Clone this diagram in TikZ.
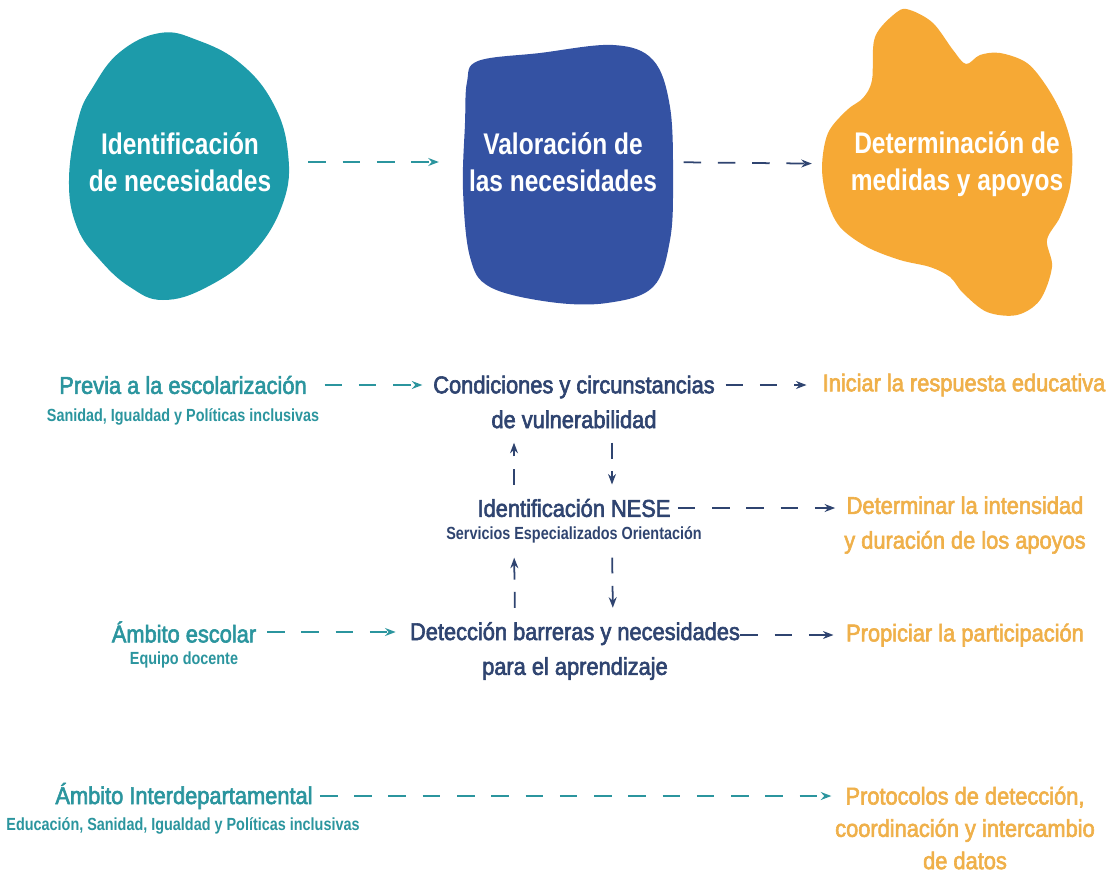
\documentclass[tikz,border=0pt]{standalone}
\usepackage{fontspec}
\setmainfont{Liberation Sans}[FakeStretch=0.82]
\newfontfamily\medfont{Liberation Sans}[FakeStretch=0.9, FakeBold=2.5]
\usetikzlibrary{arrows.meta, calc}

\definecolor{tealblob}{HTML}{1D9BAA}
\definecolor{blueblob}{HTML}{3452A3}
\definecolor{orangeblob}{HTML}{F6A935}
\definecolor{tealtxt}{HTML}{2B959E}
\definecolor{navytxt}{HTML}{2F4470}
\definecolor{orangetxt}{HTML}{EFB04A}

\tikzset{
  blobtitle/.style={text=white, font=\bfseries\fontsize{17}{21}\selectfont, align=center, inner sep=0pt},
  mainlbl/.style={font=\medfont\fontsize{13.8}{19.8}\selectfont, align=center, inner sep=0pt},
  sublbl/.style={font=\bfseries\fontsize{10}{12}\selectfont, align=center, inner sep=0pt},
  flow/.style={line width=1pt, dash pattern=on 10pt off 9.5pt, -{Stealth[length=6pt,width=4.5pt]}},
  vflow/.style={flow, navytxt, dash pattern=on 9pt off 7pt, shorten <=8pt, shorten >=8pt},
}

\begin{document}
\begin{tikzpicture}[x=0.02cm, y=-0.02cm]
\useasboundingbox (0,0) rectangle (1114,875);

% blobs
\fill[tealblob] plot[smooth cycle, tension=0.7] coordinates {(160,33) (197,40) (240,63) (273,103) (288,153) (283,203) (253,253) (207,287) (163,300) (130,287) (100,260) (77,227) (69,180) (78,120) (93,87) (120,52)};
\fill[blueblob] plot[smooth cycle, tension=0.6] coordinates {(478,61) (540,53) (613,45) (653,60) (670,107) (673,180) (670,240) (653,287) (607,303) (550,302) (490,287) (470,257) (463,190) (465,123) (467,82)};
\fill[orangeblob] plot[smooth cycle, tension=0.55] coordinates {(875,37) (897,12) (910,10) (933,23) (953,50) (966,64) (980,55) (1000,53) (1027,63) (1047,87) (1063,117) (1072,150) (1070,187) (1060,217) (1047,240) (1052,267) (1040,300) (1017,315) (987,312) (963,293) (950,277) (930,267) (900,260) (867,247) (840,227) (827,200) (822,167) (828,133) (847,110) (863,98) (872,80)};

\node[blobtitle] (idn) at (180,162) {Identificación\\de necesidades};
\node[blobtitle] (val) at (563,162) {Valoración de\\las necesidades};
\node[blobtitle] (det) at (957,164) {Determinación de\\medidas y apoyos};

\draw[flow, tealtxt, shorten <=21pt, shorten >=17pt] (idn.east) -- (val.west);
\draw[flow, navytxt, shorten <=15pt, shorten >=22pt] (val.east) -- (det.west);

% origins
\node[mainlbl, text=tealtxt] (prev) at (183,385) {Previa a la escolarización};
\node[sublbl, text=tealtxt] (prevsub) at (183,417) {Sanidad, Igualdad y Políticas inclusivas};
\node[mainlbl, text=tealtxt] (esc) at (184,632) {Ámbito escolar};
\node[sublbl, text=tealtxt] (escsub) at (184,660) {Equipo docente};
\node[mainlbl, text=tealtxt] (inter) at (184,796) {Ámbito Interdepartamental};
\node[sublbl, text=tealtxt] (intersub) at (183,826) {Educación, Sanidad, Igualdad y Políticas inclusivas};

% valoracion
\node[mainlbl, text=navytxt] (cond) at (574,402) {Condiciones y circunstancias\\de vulnerabilidad};
\node[mainlbl, text=navytxt] (nese) at (574,508) {Identificación NESE};
\node[sublbl, text=navytxt] (nesesub) at (574,535) {Servicios Especializados Orientación};
\node[mainlbl, text=navytxt] (detb) at (575,651) {Detección barreras y necesidades\\para el aprendizaje};

% medidas
\node[mainlbl, text=orangetxt] (ini) at (964,385) {Iniciar la respuesta educativa};
\node[mainlbl, text=orangetxt] (detint) at (965,525) {Determinar la intensidad\\y duración de los apoyos};
\node[mainlbl, text=orangetxt] (prop) at (965,635) {Propiciar la participación};
\node[mainlbl, text=orangetxt, font=\medfont\fontsize{13.8}{18.4}\selectfont] (prot) at (965,828) {Protocolos de detección,\\coordinación y intercambio\\de datos};

% horizontal flows
\draw[flow, tealtxt, shorten <=10pt, shorten >=6pt] (prev.east) -- (prev.east -| cond.west);
\draw[flow, navytxt, shorten <=6pt, shorten >=9pt] (cond.east |- prev.east) -- (ini.west);
\draw[flow, navytxt, shorten <=4pt, shorten >=5pt] (nese.east) -- (nese.east -| detint.west);
\draw[flow, tealtxt, shorten <=6pt, shorten >=8pt] (esc.east) -- (esc.east -| detb.west);
\draw[flow, navytxt, shorten <=0pt, shorten >=7pt] (detb.east |- prop.west) -- (prop.west);
\draw[flow, tealtxt, shorten <=4pt, shorten >=2pt] (inter.east) -- (inter.east -| prot.west);

% vertical flows
\draw[vflow] ($(nese.north)+(-60,0)$) -- ($(cond.south)+(-60,0)$);
\draw[vflow] ($(cond.south)+(38,0)$) -- ($(nese.north)+(38,0)$);
\draw[vflow] ($(detb.north)+(-60,0)$) -- ($(nesesub.south)+(-60,0)$);
\draw[vflow] ($(nesesub.south)+(38,0)$) -- ($(detb.north)+(38,0)$);
\end{tikzpicture}
\end{document}
